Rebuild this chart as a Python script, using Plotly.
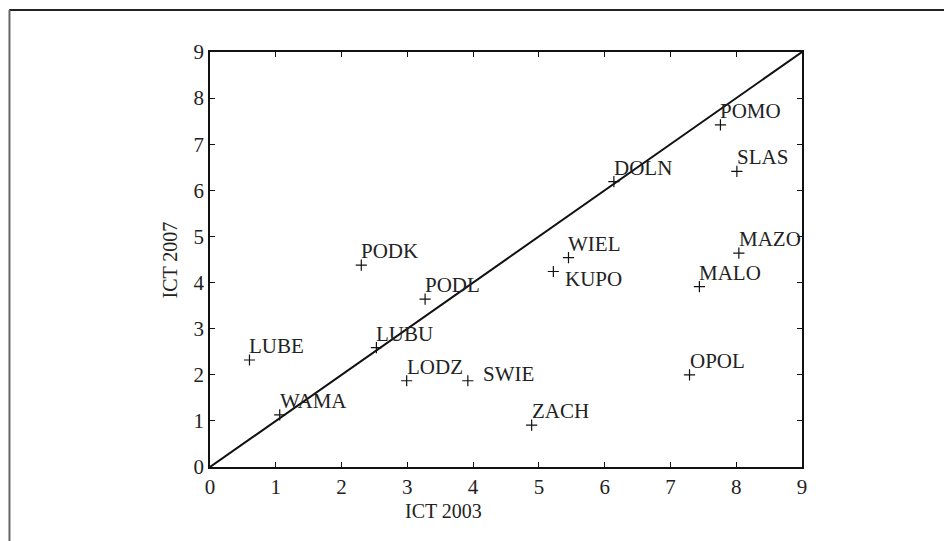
import plotly.graph_objects as go

# Data
regions = ["PODK", "PODL", "LUBU", "LUBE", "LODZ", "SWIE", "WAMA", "DOLN",
           "SLAS", "WIEL", "KUPO", "MAZO", "MALO", "POMO", "ZACH", "OPOL"]
ict_2003 = [2.30, 3.27, 2.53, 0.60, 2.99, 3.92, 1.06, 6.14,
            8.01, 5.45, 5.22, 8.04, 7.44, 7.76, 4.89, 7.29]
ict_2007 = [4.38, 3.64, 2.59, 2.32, 1.87, 1.87, 1.13, 6.19,
            6.41, 4.54, 4.24, 4.64, 3.91, 7.42, 0.91, 2.00]
diag = [0, 9]
x_ticks = list(range(0, 10))
y_ticks = list(range(0, 10))
x_title = "ICT 2003"
y_title = "ICT 2007"

# label offsets (pixels): default above-right, a few exceptions
label_shift = {"SWIE": (13, 7), "KUPO": (10, -8)}

FONT = "Liberation Serif"
TXT = "#222"

W, H = 952, 541
L, R, T, B = 201.5, 158, 44, 82
pw, ph = W - L - R, H - T - B


def px(X):
    return (X - L) / pw


def py(Y):
    return (H - B - Y) / ph


fig = go.Figure()
fig.add_trace(go.Scatter(x=diag, y=diag, mode="lines",
                         line=dict(color="#111", width=2), hoverinfo="skip",
                         showlegend=False, cliponaxis=False))
fig.add_trace(go.Scatter(x=ict_2003, y=ict_2007, mode="markers",
                         marker=dict(symbol="cross-thin", size=8,
                                     line=dict(color="#111", width=1.2)),
                         text=regions, showlegend=False))

for name, xv, yv in zip(regions, ict_2003, ict_2007):
    dx, dy = label_shift.get(name, (-2, 14))
    fig.add_annotation(x=xv, y=yv, text=name, showarrow=False,
                       xanchor="left", yanchor="middle",
                       xshift=dx, yshift=dy,
                       font=dict(family=FONT, size=21, color=TXT))

axis_common = dict(range=[0, 9], tickmode="array", showgrid=False,
                   zeroline=False, showline=True, linecolor="#111",
                   linewidth=1.5, mirror="ticks", ticks="inside",
                   ticklen=5, tickwidth=1.2, tickcolor="#111",
                   tickfont=dict(family=FONT, size=21, color=TXT))

fig.update_xaxes(**axis_common, tickvals=x_ticks,
                 ticktext=[str(v) for v in x_ticks])
fig.update_yaxes(**axis_common, tickvals=y_ticks,
                 ticktext=[str(v) for v in y_ticks])

# axis titles
fig.add_annotation(x=px(435), y=py(503), xref="paper", yref="paper",
                   text=x_title, showarrow=False, xanchor="center",
                   yanchor="middle", font=dict(family=FONT, size=20, color=TXT))
fig.add_annotation(x=px(161), y=py(252), xref="paper", yref="paper",
                   text=y_title, showarrow=False, textangle=-90,
                   xanchor="center", yanchor="middle",
                   font=dict(family=FONT, size=20, color=TXT))

# outer frame (top and left edges)
fig.add_shape(type="line", xref="paper", yref="paper",
              x0=px(0.5), x1=px(952), y0=py(2), y1=py(2),
              line=dict(color="#222", width=2))
fig.add_shape(type="line", xref="paper", yref="paper",
              x0=px(0.8), x1=px(0.8), y0=py(2), y1=py(541),
              line=dict(color="#666", width=2))

fig.update_layout(width=W, height=H,
                  margin=dict(l=L, r=R, t=T, b=B),
                  paper_bgcolor="white", plot_bgcolor="white",
                  font=dict(family=FONT))

fig.write_html("out.html")
